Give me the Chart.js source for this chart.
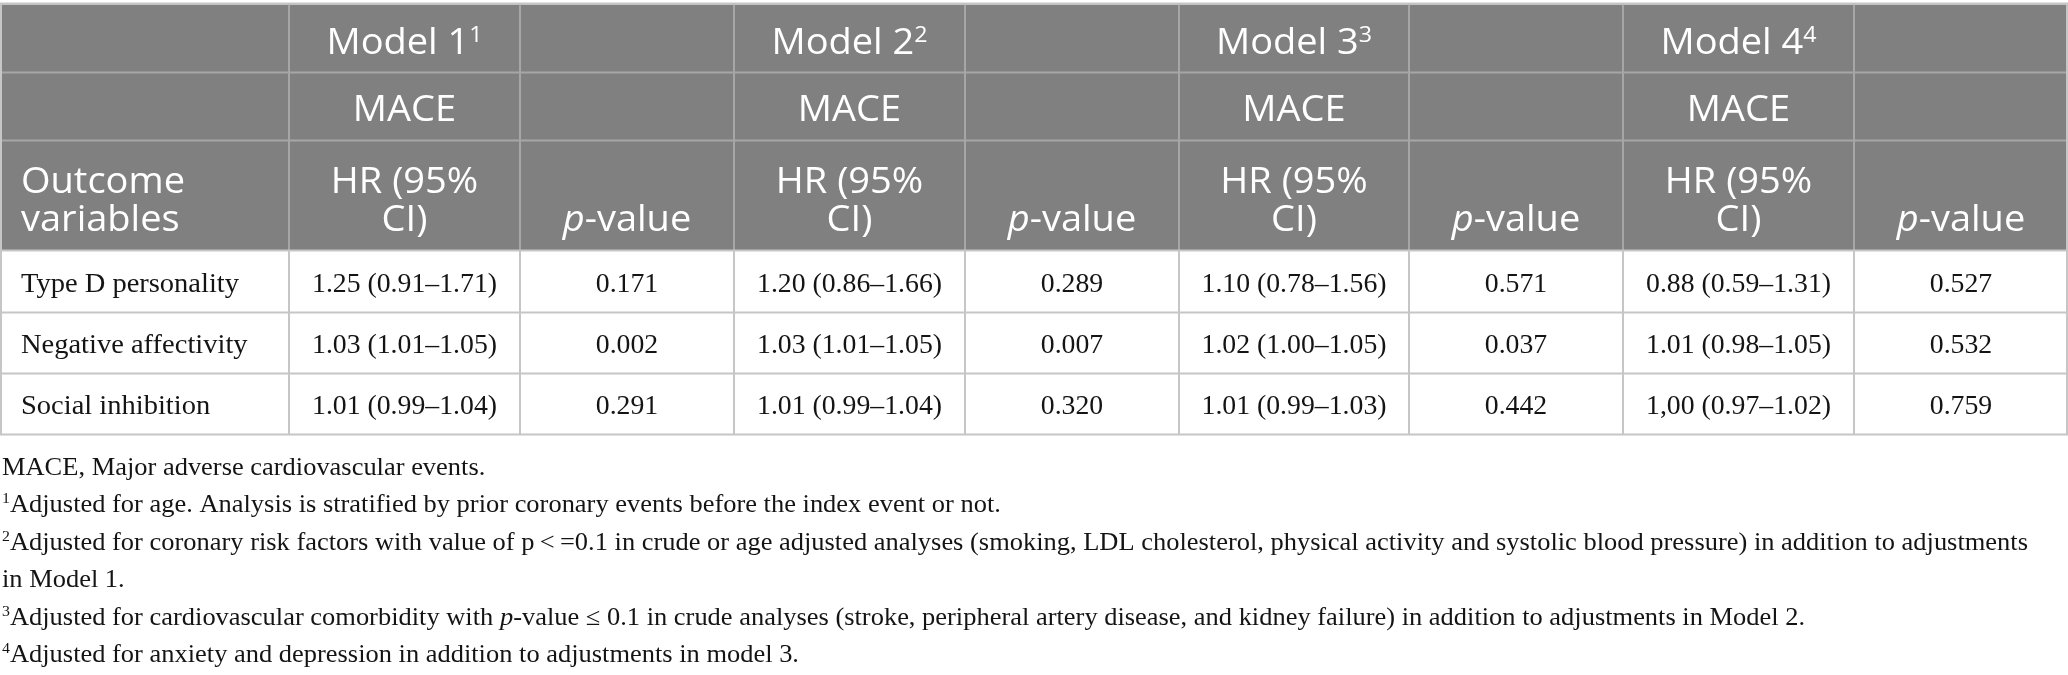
<!DOCTYPE html>
<html>
<head>
<meta charset="utf-8">
<script src="https://cdn.jsdelivr.net/npm/chart.js@4.4.1/dist/chart.umd.min.js"></script>
<style>
  html, body { margin: 0; padding: 0; background: #fff; }
  #wrap { width: 2068px; height: 675px; position: relative; }
</style>
</head>
<body>
<div id="wrap"><canvas id="tableChart"></canvas></div>
<script>
// --- table content ---
var models = ["Model 1", "Model 2", "Model 3", "Model 4"];
var modelNotes = ["1", "2", "3", "4"];
var endpoint = "MACE";
var outcomeHeader = ["Outcome", "variables"];
var hrHeader = ["HR (95%", "CI)"];
var pHeader = "p-value";
var outcomes = ["Type D personality", "Negative affectivity", "Social inhibition"];

var hrModel1 = ["1.25 (0.91–1.71)", "1.03 (1.01–1.05)", "1.01 (0.99–1.04)"];
var pModel1 = ["0.171", "0.002", "0.291"];
var hrModel2 = ["1.20 (0.86–1.66)", "1.03 (1.01–1.05)", "1.01 (0.99–1.04)"];
var pModel2 = ["0.289", "0.007", "0.320"];
var hrModel3 = ["1.10 (0.78–1.56)", "1.02 (1.00–1.05)", "1.01 (0.99–1.03)"];
var pModel3 = ["0.571", "0.037", "0.442"];
var hrModel4 = ["0.88 (0.59–1.31)", "1.01 (0.98–1.05)", "1,00 (0.97–1.02)"];
var pModel4 = ["0.527", "0.532", "0.759"];

var footMarks = ["", "1", "2", "", "3", "4"];
var footLines = [
  "MACE, Major adverse cardiovascular events.",
  "Adjusted for age. Analysis is stratified by prior coronary events before the index event or not.",
  "Adjusted for coronary risk factors with value of p\u2009<\u2009=0.1 in crude or age adjusted analyses (smoking, LDL cholesterol, physical activity and systolic blood pressure) in addition to adjustments",
  "in Model 1.",
  "Adjusted for cardiovascular comorbidity with p-value \u2264 0.1 in crude analyses (stroke, peripheral artery disease, and kidney failure) in addition to adjustments in Model 2.",
  "Adjusted for anxiety and depression in addition to adjustments in model 3."
];

// --- layout ---
var colWidths = [289, 231, 214, 231, 214, 230, 214, 231, 214];
var rowHeights = [68, 68, 110, 62, 61, 61];
var tableTop = 4.5;
var footTop = 475;
var footStep = 37.4;

var headBg = "#808080";
var headLine = "#a6a6a6";
var bodyLine = "#c6c6c6";
var headFont = '"Open Sans", "Noto Sans", sans-serif';
var bodyFont = '"Liberation Serif", "DejaVu Serif", serif';

var colEdges = [0];
colWidths.forEach(function (w) { colEdges.push(colEdges[colEdges.length - 1] + w); });
var rowEdges = [tableTop];
rowHeights.forEach(function (h) { rowEdges.push(rowEdges[rowEdges.length - 1] + h); });
var totalW = colEdges[colEdges.length - 1];

var hrCols = [hrModel1, hrModel2, hrModel3, hrModel4];
var pCols = [pModel1, pModel2, pModel3, pModel4];

// one point per body cell, placed at the cell centre
var cellPoints = [];
var cellTexts = [];
outcomes.forEach(function (name, r) {
  var yc = (rowEdges[3 + r] + rowEdges[4 + r]) / 2;
  for (var c = 0; c < colWidths.length; c++) {
    var txt = c === 0 ? name : (c % 2 === 1 ? hrCols[(c - 1) / 2][r] : pCols[c / 2 - 1][r]);
    cellPoints.push({ x: (colEdges[c] + colEdges[c + 1]) / 2, y: yc, col: c });
    cellTexts.push(txt);
  }
});

function widthOf(ctx, runs) {
  var w = 0;
  runs.forEach(function (r) { ctx.font = r.font; w += ctx.measureText(r.text).width; });
  return w;
}

function drawRuns(ctx, runs, x, y, align, sx) {
  var w = widthOf(ctx, runs) * sx;
  var start = align === "center" ? x - w / 2 : (align === "right" ? x - w : x);
  ctx.save();
  ctx.translate(start, y);
  ctx.scale(sx, 1);
  ctx.textAlign = "left";
  ctx.textBaseline = "alphabetic";
  var cx = 0;
  runs.forEach(function (r) {
    ctx.font = r.font;
    ctx.fillText(r.text, cx, r.dy || 0);
    cx += ctx.measureText(r.text).width;
  });
  ctx.restore();
}

// italic "p" in front of "-value"
function toRuns(text, size, family) {
  var out = [];
  var parts = text.split("p-value");
  parts.forEach(function (part, i) {
    if (i > 0) {
      out.push({ text: "p", font: "italic " + size + "px " + family });
      out.push({ text: "-value", font: size + "px " + family });
    }
    if (part) out.push({ text: part, font: size + "px " + family });
  });
  return out;
}

var tablePlugin = {
  id: "tablePlugin",
  beforeDatasetsDraw: function (chart) {
    var ctx = chart.ctx;
    var xs = chart.scales.x, ys = chart.scales.y;
    var px = function (v) { return xs.getPixelForValue(v); };
    var py = function (v) { return ys.getPixelForValue(v); };
    ctx.save();
    ctx.fillStyle = "#ffffff";
    ctx.fillRect(0, 0, chart.width, chart.height);
    ctx.fillStyle = headBg;
    ctx.fillRect(px(0), py(rowEdges[0]), px(totalW) - px(0), py(rowEdges[3]) - py(rowEdges[0]));

    ctx.lineWidth = 2;
    // header grid
    ctx.strokeStyle = headLine;
    ctx.beginPath();
    for (var i = 1; i < 3; i++) {
      ctx.moveTo(px(0), py(rowEdges[i]));
      ctx.lineTo(px(totalW), py(rowEdges[i]));
    }
    for (var c = 1; c < colEdges.length - 1; c++) {
      ctx.moveTo(px(colEdges[c]), py(rowEdges[0]));
      ctx.lineTo(px(colEdges[c]), py(rowEdges[3]));
    }
    ctx.stroke();
    // body grid and outer frame
    ctx.strokeStyle = bodyLine;
    ctx.beginPath();
    ctx.moveTo(px(0), py(rowEdges[0]) - 1);
    ctx.lineTo(px(totalW), py(rowEdges[0]) - 1);
    for (var j = 3; j < rowEdges.length; j++) {
      ctx.moveTo(px(0), py(rowEdges[j]));
      ctx.lineTo(px(totalW), py(rowEdges[j]));
    }
    for (var k = 1; k < colEdges.length - 1; k++) {
      ctx.moveTo(px(colEdges[k]), py(rowEdges[3]));
      ctx.lineTo(px(colEdges[k]), py(rowEdges[6]));
    }
    ctx.moveTo(px(0) + 1, py(rowEdges[0]) - 1);
    ctx.lineTo(px(0) + 1, py(rowEdges[6]));
    ctx.moveTo(px(totalW) - 1, py(rowEdges[0]) - 1);
    ctx.lineTo(px(totalW) - 1, py(rowEdges[6]));
    ctx.stroke();
    ctx.restore();
  },
  afterDatasetsDraw: function (chart) {
    var ctx = chart.ctx;
    var xs = chart.scales.x, ys = chart.scales.y;
    var px = function (v) { return xs.getPixelForValue(v); };
    var py = function (v) { return ys.getPixelForValue(v); };

    // horizontal fitting to match the reference type widths
    var hs = 36;
    var headSx = 164 / widthOf(ctx, [{ text: "Outcome", font: hs + "px " + headFont }]);
    var bs = 27;
    var bodySx = 185 / widthOf(ctx, [{ text: "0.88 (0.59–1.31)", font: bs + "px " + bodyFont }]);
    var nameSx = 218 / widthOf(ctx, [{ text: outcomes[0], font: bs + "px " + bodyFont }]);
    var fs = 25;
    var footSx = 2018 / widthOf(ctx, toRuns(footLines[2], fs, bodyFont));

    ctx.save();
    // header text
    ctx.fillStyle = "#ffffff";
    var b1 = py(rowEdges[0]) + 49, b2 = py(rowEdges[1]) + 48;
    var b3a = py(rowEdges[2]) + 52, b3b = py(rowEdges[2]) + 90;
    drawRuns(ctx, [{ text: outcomeHeader[0], font: hs + "px " + headFont }], px(0) + 21, b3a, "left", headSx);
    drawRuns(ctx, [{ text: outcomeHeader[1], font: hs + "px " + headFont }], px(0) + 21, b3b, "left", headSx);
    models.forEach(function (m, i) {
      var hc = px((colEdges[1 + 2 * i] + colEdges[2 + 2 * i]) / 2);
      var pc = px((colEdges[2 + 2 * i] + colEdges[3 + 2 * i]) / 2);
      drawRuns(ctx, [
        { text: m, font: hs + "px " + headFont },
        { text: modelNotes[i], font: Math.round(hs * 0.6) + "px " + headFont, dy: -12 }
      ], hc, b1, "center", headSx);
      drawRuns(ctx, [{ text: endpoint, font: hs + "px " + headFont }], hc, b2, "center", headSx);
      drawRuns(ctx, [{ text: hrHeader[0], font: hs + "px " + headFont }], hc, b3a, "center", headSx);
      drawRuns(ctx, [{ text: hrHeader[1], font: hs + "px " + headFont }], hc, b3b, "center", headSx);
      drawRuns(ctx, toRuns(pHeader, hs, headFont), pc, b3b, "center", headSx);
    });

    // body cells, positioned by the scatter points
    ctx.fillStyle = "#141414";
    var meta = chart.getDatasetMeta(0);
    meta.data.forEach(function (pt, i) {
      var raw = cellPoints[i];
      var runs = [{ text: cellTexts[i], font: bs + "px " + bodyFont }];
      if (raw.col === 0) {
        drawRuns(ctx, runs, px(colEdges[0]) + 21, pt.y + 10, "left", nameSx);
      } else {
        drawRuns(ctx, runs, pt.x, pt.y + 10, "center", bodySx);
      }
    });

    // footnotes
    footLines.forEach(function (line, i) {
      var y = footTop + i * footStep;
      var runs = [];
      if (footMarks[i]) runs.push({ text: footMarks[i], font: "15px " + bodyFont, dy: -9 });
      runs = runs.concat(toRuns(line, fs, bodyFont));
      drawRuns(ctx, runs, 2, y, "left", footSx);
    });
    ctx.restore();
  }
};

function build() {
  new Chart(document.getElementById("tableChart"), {
    type: "scatter",
    data: {
      datasets: [{
        label: "cells",
        data: cellPoints,
        pointRadius: 0,
        pointHoverRadius: 0,
        showLine: false
      }]
    },
    options: {
      responsive: true,
      maintainAspectRatio: false,
      animation: false,
      devicePixelRatio: 1,
      layout: { padding: 0 },
      events: [],
      plugins: {
        legend: { display: false },
        tooltip: { enabled: false },
        title: { display: false }
      },
      scales: {
        x: { type: "linear", min: 0, max: totalW, display: false },
        y: { type: "linear", min: 0, max: 675, reverse: true, display: false }
      }
    },
    plugins: [tablePlugin]
  });
}

var fontJobs = [
  '36px "Open Sans"', 'italic 36px "Open Sans"',
  '27px "Liberation Serif"', 'italic 27px "Liberation Serif"'
].map(function (f) { return document.fonts.load(f); });
Promise.all(fontJobs).then(build, build);
</script>
</body>
</html>
